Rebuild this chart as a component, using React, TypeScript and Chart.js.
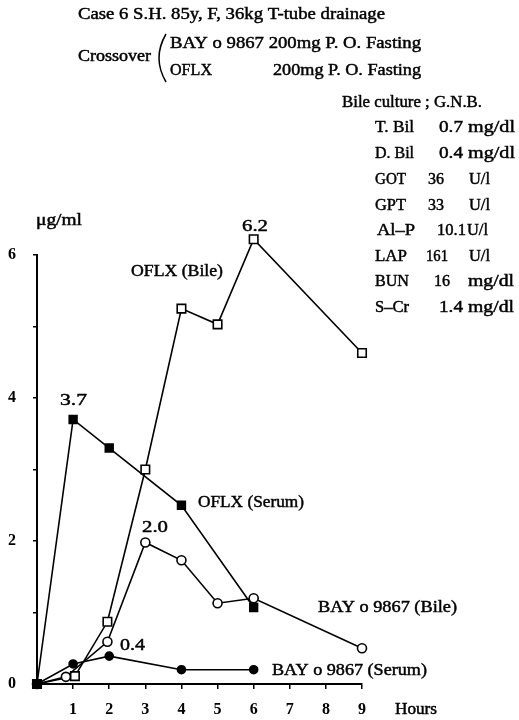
import React, { useEffect, useRef } from 'react';
import { Chart, registerables } from 'chart.js';

Chart.register(...registerables);

// ---- data (hours after dose, concentration in µg/ml) ----
const oflxBileHours = [0, 1.05, 1.95, 3, 4, 5, 6, 9];
const oflxBileValues = [0, 0.11, 0.87, 3.0, 5.25, 5.03, 6.22, 4.63];

const oflxSerumHours = [0, 1, 2, 4, 6];
const oflxSerumValues = [0, 3.7, 3.3, 2.5, 1.07];

const bayBileHours = [0, 0.8, 1.95, 3, 4, 5, 6, 9];
const bayBileValues = [0, 0.1, 0.59, 1.98, 1.73, 1.13, 1.2, 0.5];

const baySerumHours = [0, 1, 2, 4, 6];
const baySerumValues = [0, 0.28, 0.39, 0.2, 0.2];

const xTickValues = [1, 2, 3, 4, 5, 6, 7, 8, 9];
const yTickLabelValues = [0, 2, 4, 6];

const labNames = ['T. Bil', 'D. Bil', 'GOT', 'GPT', 'Al\u2013P', 'LAP', 'BUN', 'S\u2013Cr'];
const labValues = ['0.7', '0.4', '36', '33', '10.1', '161', '16', '1.4'];
const labUnits = ['mg/dl', 'mg/dl', 'U/l', 'U/l', 'U/l', 'U/l', 'mg/dl', 'mg/dl'];

const zip = (xs: number[], ys: number[]) => xs.map((x, i) => ({ x, y: ys[i] }));

const FONT = '"Liberation Serif", "Times New Roman", serif';

function fitText(ctx: CanvasRenderingContext2D, text: string, x: number, y: number, w: number, size = 16) {
  ctx.font = `${size}px ${FONT}`;
  const m = ctx.measureText(text).width || 1;
  ctx.save();
  ctx.translate(x, y);
  ctx.scale(w / m, 1);
  ctx.lineWidth = 0.45;
  ctx.fillText(text, 0, 0);
  ctx.strokeText(text, 0, 0);
  ctx.restore();
}

// layout of the lab table (x start, width) per column
const labNameBox: [number, number][] = [[375, 39], [375, 39], [375, 31], [375, 31], [377, 38], [375, 32], [375, 34], [375, 34]];
const labValueBox: [number, number][] = [[439, 24], [439, 24], [428, 16], [428, 16], [437, 29], [426, 22], [434, 16], [439, 24]];
const labUnitBox: [number, number][] = [[468, 47], [468, 47], [469, 21], [469, 21], [467, 21], [469, 21], [468, 46], [468, 46]];
const labRowY = [128, 154, 180, 206, 231, 257, 282, 308];

const textPlugin = {
  id: 'textPlugin',
  beforeDatasetsDraw(chart: any) {
    // let points just above the axis top (6.2) still be drawn
    chart.$savedArea = chart.chartArea;
    chart.chartArea = { ...chart.chartArea, top: chart.chartArea.top - 40, right: chart.chartArea.right + 20 };
  },
  afterDatasetsDraw(chart: any) {
    if (chart.$savedArea) chart.chartArea = chart.$savedArea;
  },
  afterDraw(chart: any) {
    const ctx: CanvasRenderingContext2D = chart.ctx;
    ctx.save();
    ctx.fillStyle = '#000';
    ctx.strokeStyle = '#000';
    ctx.textBaseline = 'middle';
    ctx.textAlign = 'left';

    // header
    fitText(ctx, 'Case 6 S.H. 85y, F, 36kg T-tube drainage', 78, 15, 307);
    fitText(ctx, 'Crossover', 78, 57, 73);
    fitText(ctx, 'BAY o 9867 200mg P. O. Fasting', 170, 44, 251);
    fitText(ctx, 'OFLX', 170, 71, 42);
    fitText(ctx, '200mg P. O. Fasting', 273, 71, 148);
    // parenthesis
    ctx.lineWidth = 1.5;
    ctx.beginPath();
    ctx.moveTo(166, 34);
    ctx.quadraticCurveTo(152, 58, 166, 82);
    ctx.stroke();

    // lab block
    fitText(ctx, 'Bile culture ; G.N.B.', 342, 103, 140);
    labNames.forEach((n, i) => {
      const y = labRowY[i];
      fitText(ctx, n, labNameBox[i][0], y, labNameBox[i][1]);
      fitText(ctx, labValues[i], labValueBox[i][0], y, labValueBox[i][1]);
      fitText(ctx, labUnits[i], labUnitBox[i][0], y, labUnitBox[i][1]);
    });

    // axis unit and titles
    fitText(ctx, '\u03bcg/ml', 36, 221, 46);
    fitText(ctx, 'Hours', 395, 710, 42);

    // series labels
    fitText(ctx, 'OFLX (Bile)', 131, 272, 92);
    fitText(ctx, 'OFLX (Serum)', 198, 503, 106);
    fitText(ctx, 'BAY o 9867 (Bile)', 318, 608, 139);
    fitText(ctx, 'BAY o 9867 (Serum)', 272, 671, 155);

    // value annotations
    fitText(ctx, '6.2', 242, 227, 26);
    fitText(ctx, '3.7', 60, 401, 27);
    fitText(ctx, '2.0', 142, 528, 26);
    fitText(ctx, '0.4', 120, 646, 25);
    ctx.restore();
  },
};

export default function App() {
  const ref = useRef<HTMLCanvasElement | null>(null);
  useEffect(() => {
    if (!ref.current) return;
    const common = {
      borderColor: '#000',
      borderWidth: 1.6,
      pointBorderColor: '#000',
      pointBorderWidth: 1.6,
      tension: 0,
      clip: false as any,
      fill: false,
    };
    const chart = new Chart(ref.current, {
      type: 'line',
      data: {
        datasets: [
          {
            ...common,
            label: 'OFLX (Serum)',
            data: zip(oflxSerumHours, oflxSerumValues),
            pointStyle: 'rect',
            pointRadius: 5.5,
            pointBackgroundColor: '#000',
          },
          {
            ...common,
            label: 'BAY o 9867 (Serum)',
            data: zip(baySerumHours, baySerumValues),
            pointStyle: 'circle',
            pointRadius: 4,
            pointBackgroundColor: '#000',
          },
          {
            ...common,
            label: 'BAY o 9867 (Bile)',
            data: zip(bayBileHours, bayBileValues),
            pointStyle: 'circle',
            pointRadius: 4.5,
            pointBackgroundColor: '#fff',
          },
          {
            ...common,
            label: 'OFLX (Bile)',
            data: zip(oflxBileHours, oflxBileValues),
            pointStyle: 'rect',
            pointRadius: 6,
            pointBackgroundColor: '#fff',
          },
        ],
      },
      options: {
        animation: false,
        responsive: false,
        maintainAspectRatio: false,
        layout: { padding: { left: 0, top: 255, right: 157, bottom: 0 } },
        plugins: { legend: { display: false }, tooltip: { enabled: false } },
        scales: {
          x: {
            type: 'linear',
            min: 0,
            max: 9,
            afterFit: (s: any) => { s.height = 36; },
            afterBuildTicks: (s: any) => { s.ticks = [0, ...xTickValues].map((v) => ({ value: v })); },
            ticks: {
              color: '#000',
              font: { family: FONT, size: 16, weight: 'bold' },
              padding: 11,
              maxRotation: 0,
              autoSkip: false,
              callback: (v: any) => (v === 0 ? '' : String(v)),
            },
            grid: { drawOnChartArea: false, drawTicks: true, tickLength: 5, color: '#000', lineWidth: 1.5 },
            border: { display: true, color: '#000', width: 2 },
          },
          y: {
            type: 'linear',
            min: 0,
            max: 6,
            afterFit: (s: any) => { s.width = 37; },
            ticks: {
              stepSize: 1,
              color: '#000',
              font: { family: FONT, size: 16, weight: 'bold' },
              padding: 17,
              autoSkip: false,
              callback: (v: any) => (yTickLabelValues.includes(Number(v)) ? String(v) : ''),
            },
            grid: { drawOnChartArea: false, drawTicks: true, tickLength: 4, color: '#000', lineWidth: 1.5 },
            border: { display: true, color: '#000', width: 2 },
          },
        },
      },
      plugins: [textPlugin],
    } as any);
    return () => chart.destroy();
  }, []);
  return (
    <div style={{ position: 'absolute', left: 0, top: 0, width: 519, height: 720, background: '#fff' }}>
      <canvas ref={ref} width={519} height={720} style={{ display: 'block' }} />
    </div>
  );
}
